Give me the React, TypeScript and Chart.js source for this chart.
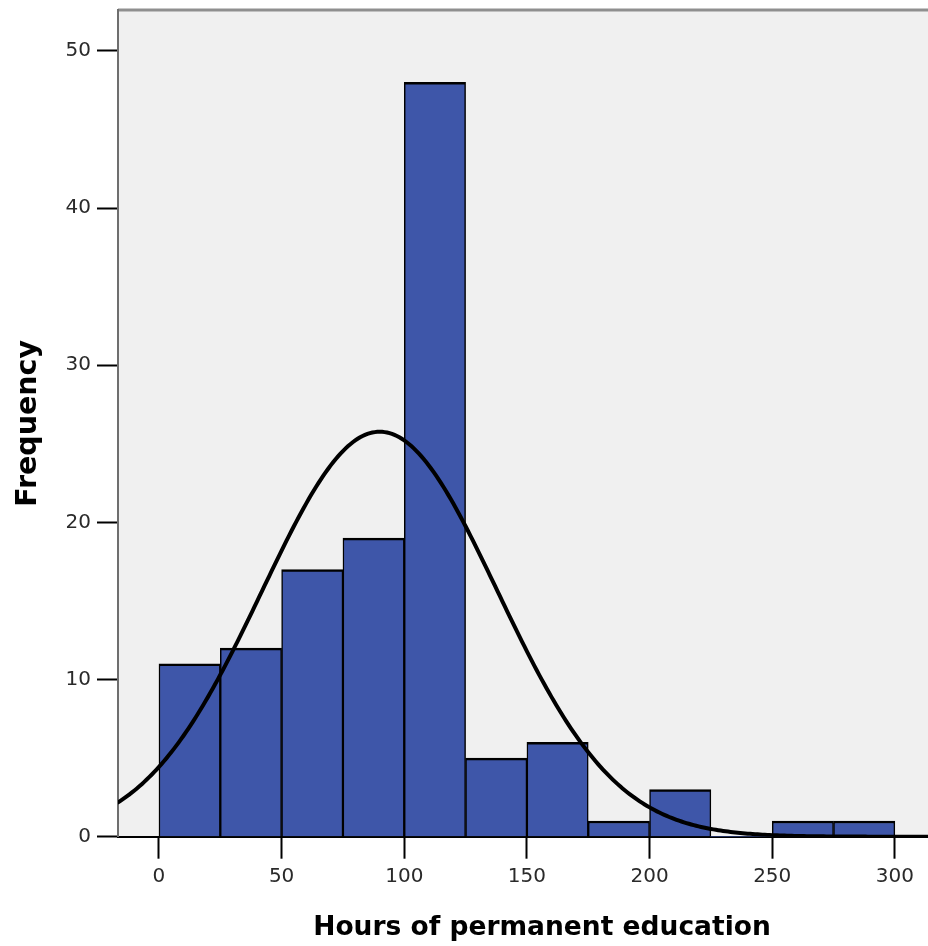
import React, { useEffect, useRef } from "react";
import { Chart, registerables } from "chart.js";

Chart.register(...registerables);

// Histogram bins (width 25) — centers and counts
const BIN_CENTERS = [12.5, 37.5, 62.5, 87.5, 112.5, 137.5, 162.5, 187.5, 212.5, 237.5, 262.5, 287.5];
const FREQUENCIES = [11, 12, 17, 19, 48, 5, 6, 1, 3, 0, 1, 1];
const BIN_WIDTH = 25;

// Axis ticks
const X_TICKS = [0, 50, 100, 150, 200, 250, 300];
const Y_TICKS = [0, 10, 20, 30, 40, 50];

// Normal curve parameters
const CURVE_MEAN = 90;
const CURVE_SD = 48;

const X_MIN = -16.7;
const X_MAX = 329;
const Y_MAX = 52.6;

const X_TITLE = "Hours of permanent education";
const Y_TITLE = "Frequency";

const CANVAS_W = 966;
const CANVAS_H = 946;

const bgPlugin = {
  id: "plotBg",
  beforeDraw(chart: any) {
    const { ctx, chartArea: a } = chart;
    ctx.save();
    ctx.fillStyle = "#f0f0f0";
    ctx.fillRect(a.left, a.top, a.right - a.left, a.bottom - a.top);
    ctx.strokeStyle = "#8f8f8f";
    ctx.lineWidth = 3;
    ctx.beginPath();
    ctx.moveTo(a.left, a.top);
    ctx.lineTo(a.right, a.top);
    ctx.stroke();
    ctx.restore();
  },
};

export default function App() {
  const ref = useRef<HTMLCanvasElement | null>(null);

  useEffect(() => {
    if (!ref.current) return;
    const n = FREQUENCIES.reduce((s, v) => s + v, 0);
    const curve: { x: number; y: number }[] = [];
    for (let x = Math.floor(X_MIN); x <= Math.ceil(X_MAX); x += 1) {
      const z = (x - CURVE_MEAN) / CURVE_SD;
      const y = (n * BIN_WIDTH) / (CURVE_SD * Math.sqrt(2 * Math.PI)) * Math.exp(-0.5 * z * z);
      curve.push({ x, y });
    }
    const bars = BIN_CENTERS.map((c, i) => ({ x: c, y: FREQUENCIES[i] }));

    const chart = new Chart(ref.current, {
      type: "bar",
      data: {
        datasets: [
          {
            type: "line",
            data: curve,
            borderColor: "#000",
            borderWidth: 4,
            pointRadius: 0,
            fill: false,
            order: 0,
          } as any,
          {
            type: "bar",
            data: bars,
            backgroundColor: "#3e56a9",
            borderColor: "#000",
            borderWidth: (c: any) =>
              c.raw && c.raw.y > 0 ? { top: 2.5, left: 1.5, right: 1.5, bottom: 0 } : 0,
            borderSkipped: false,
            barPercentage: 1,
            categoryPercentage: 1,
            order: 1,
          } as any,
        ],
      },
      options: {
        animation: false,
        responsive: false,
        maintainAspectRatio: false,
        layout: { padding: { top: 10, left: 0, right: 0, bottom: 0 } },
        plugins: { legend: { display: false }, tooltip: { enabled: false } },
        scales: {
          x: {
            type: "linear",
            min: X_MIN,
            max: X_MAX,
            offset: false,
            afterBuildTicks: (s: any) => {
              s.ticks = X_TICKS.map((v) => ({ value: v }));
            },
            afterFit: (s: any) => {
              s.height = 109.3;
              s.paddingLeft = 0;
              s.paddingRight = 0;
            },
            grid: {
              display: true,
              drawOnChartArea: false,
              drawTicks: true,
              tickLength: 22,
              tickWidth: 2,
              tickColor: "#000",
              offset: false,
            },
            border: { display: true, color: "#000", width: 2 },
            ticks: {
              color: "#2a2a2a",
              font: { family: "DejaVu Sans", size: 20 },
              padding: 6,
              maxRotation: 0,
              autoSkip: false,
            },
            title: {
              display: true,
              text: X_TITLE,
              color: "#000",
              font: { family: "DejaVu Sans", size: 26.5, weight: "bold" },
              padding: { top: 0, bottom: 2 },
            },
          },
          y: {
            type: "linear",
            min: 0,
            max: Y_MAX,
            afterBuildTicks: (s: any) => {
              s.ticks = Y_TICKS.map((v) => ({ value: v }));
            },
            afterFit: (s: any) => {
              s.width = 118;
              s.paddingTop = 0;
              s.paddingBottom = 0;
            },
            grid: {
              display: true,
              drawOnChartArea: false,
              drawTicks: true,
              tickLength: 21,
              tickWidth: 2,
              tickColor: "#000",
            },
            border: { display: true, color: "#6e6e6e", width: 2 },
            ticks: {
              color: "#2a2a2a",
              font: { family: "DejaVu Sans", size: 20 },
              padding: 6,
              autoSkip: false,
            },
            title: {
              display: true,
              text: Y_TITLE,
              color: "#000",
              font: { family: "DejaVu Sans", size: 28.5, weight: "bold" },
              padding: { top: 11, bottom: 0 },
            },
          },
        },
      },
      plugins: [bgPlugin],
    });
    return () => chart.destroy();
  }, []);

  return (
    <div
      style={{
        position: "fixed",
        left: 0,
        top: 0,
        width: 928,
        height: 946,
        overflow: "hidden",
        background: "#fff",
      }}
    >
      <canvas
        ref={ref}
        width={CANVAS_W}
        height={CANVAS_H}
        style={{ display: "block", width: CANVAS_W, height: CANVAS_H }}
      />
    </div>
  );
}
